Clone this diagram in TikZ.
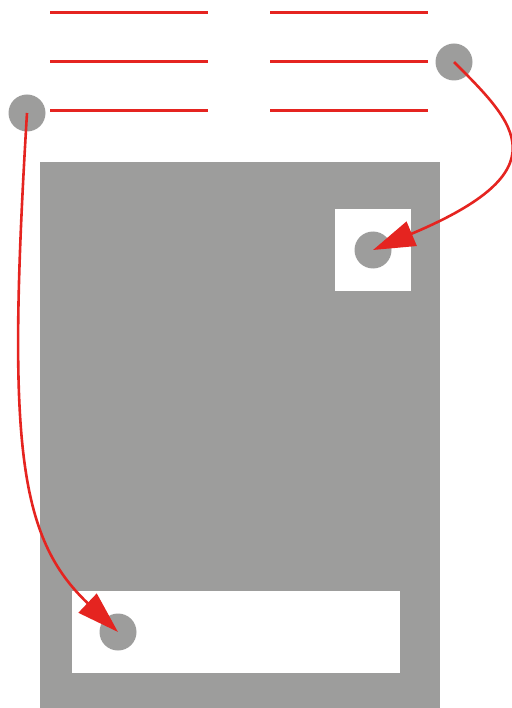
\documentclass[tikz,border=0pt]{standalone}
\usepackage{tikz}
\usetikzlibrary{arrows.meta, positioning, calc}

\begin{document}
\begin{tikzpicture}[x=1pt, y=-1pt,
  linha/.style={draw=vermelho, line width=3pt},
  ponto/.style={circle, fill=cinza, minimum size=37pt, inner sep=0pt},
  seta/.style={draw=vermelho, line width=2.6pt, -{Triangle[length=42pt, width=26pt]}}]
% --- CORES ---
\definecolor{vermelho}{HTML}{E52420}
\definecolor{cinza}{HTML}{9D9D9C}
\useasboundingbox (0,0) rectangle (511,708);

% LAYER 1: Linhas de texto (duas colunas)
\foreach \y in {13, 62, 111} {
  \draw[linha] (50,\y) -- (208,\y);
  \draw[linha] (270,\y) -- (428,\y);
}

% LAYER 2: Página e caixas brancas
\fill[cinza] (40,162) rectangle (440,708); % Página
\fill[white] (335,209) rectangle (411,291); % Caixa superior
\fill[white] (72,591) rectangle (400,673); % Caixa inferior

% LAYER 3: Pontos
\node[ponto] (pontoEsq) at (27,113) {};
\node[ponto] (pontoDir) at (454,62) {};
\node[ponto] (alvoSup) at (373,250) {};
\node[ponto] (alvoInf) at (118,632) {};

% LAYER 4: Setas
\draw[seta] (pontoDir.center) .. controls +(62,62) and +(190,-80) .. (alvoSup.center);
\draw[seta] (pontoEsq.center) .. controls +(-20,330) and +(-100,-95) .. (alvoInf.center);
\end{tikzpicture}
\end{document}
